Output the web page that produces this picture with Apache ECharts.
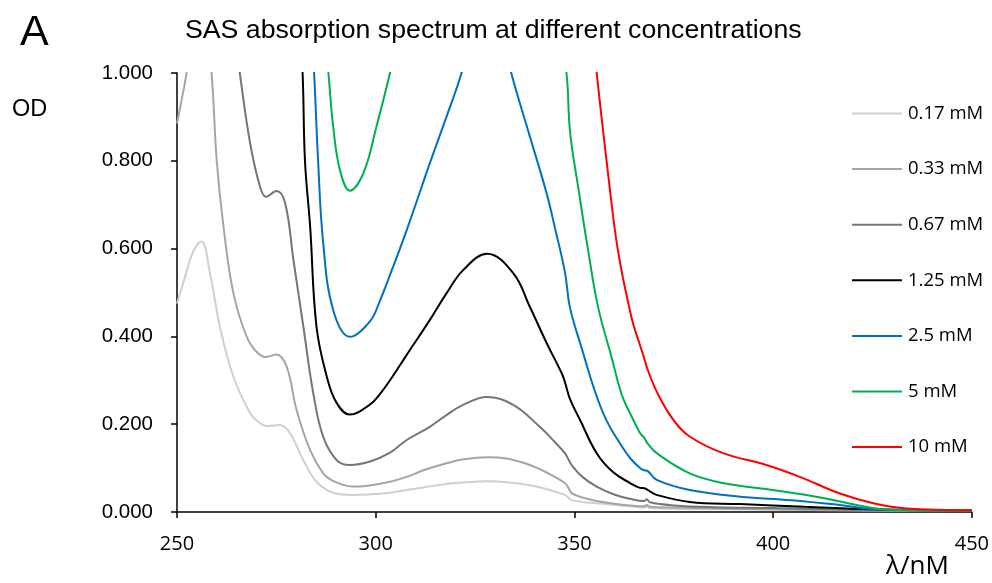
<!DOCTYPE html>
<html>
<head>
<meta charset="utf-8">
<script src="https://cdn.jsdelivr.net/npm/echarts@6/dist/echarts.min.js"></script>
<style>
html,body{margin:0;padding:0;background:#fff;}
#chart{width:992px;height:583px;}
</style>
</head>
<body>
<div id="chart"></div>
<script>
// ---------- data (wavelength in nm, OD) ----------
const seriesNames = ['0.17 mM', '0.33 mM', '0.67 mM', '1.25 mM', '2.5 mM', '5 mM', '10 mM'];
const seriesColors = ['#d0d0d0', '#a6a6a6', '#767676', '#000000', '#0070c0', '#00b050', '#ff0000'];

const wl017 = [250, 252, 253.6, 255, 256.2, 258.3, 260.8, 264.2, 268.4, 270.5, 272.5, 274.5, 275.9, 278.4, 281.8, 285.1, 289.3, 294, 298, 303.6, 307.8, 312, 317.8, 322, 328, 333, 338.8, 343, 347.6, 348.5, 349.3, 352, 355.6, 360, 364, 367.5, 368.2, 369, 375, 385, 400, 420, 450];
const od017 = [0.475, 0.535, 0.583, 0.608, 0.616, 0.544, 0.422, 0.308, 0.225, 0.205, 0.196, 0.197, 0.198, 0.180, 0.118, 0.069, 0.044, 0.039, 0.040, 0.044, 0.050, 0.056, 0.064, 0.067, 0.070, 0.068, 0.061, 0.052, 0.039, 0.033, 0.027, 0.023, 0.020, 0.016, 0.013, 0.010, 0.012, 0.009, 0.007, 0.006, 0.005, 0.004, 0.003];

const wl033 = [250, 251.3, 252.4, 253.5, 257.5, 258.7, 260, 261.7, 264.2, 267.5, 270, 272.4, 275, 277.6, 280.1, 283.5, 286.8, 289, 291.8, 294, 298, 303.6, 307.8, 312, 317.8, 322, 328, 333, 338.8, 343, 347.6, 348.5, 349.3, 352, 355.6, 360, 364, 367.5, 368.2, 369, 375, 385, 400, 420, 450];
const od033 = [0.885, 0.945, 1.000, 1.080, 1.080, 1.000, 0.800, 0.650, 0.498, 0.400, 0.365, 0.353, 0.359, 0.331, 0.232, 0.141, 0.088, 0.072, 0.062, 0.058, 0.060, 0.069, 0.080, 0.095, 0.111, 0.120, 0.125, 0.122, 0.107, 0.090, 0.066, 0.055, 0.043, 0.033, 0.025, 0.019, 0.015, 0.013, 0.016, 0.012, 0.010, 0.008, 0.006, 0.004, 0.003];

const wl067 = [265, 265.8, 268.4, 270.9, 272.4, 275, 277.2, 279.3, 281.8, 284.3, 286.8, 290.2, 293.5, 298.6, 303.6, 307.8, 313.6, 318, 322, 328, 334.6, 341.3, 345, 347.6, 348.5, 349.3, 352, 355.6, 360, 364, 367.5, 368.2, 369, 375, 385, 400, 420, 450];
const od067 = [1.060, 1.000, 0.840, 0.741, 0.718, 0.731, 0.704, 0.574, 0.422, 0.270, 0.171, 0.118, 0.107, 0.115, 0.135, 0.164, 0.194, 0.222, 0.244, 0.262, 0.244, 0.194, 0.160, 0.134, 0.120, 0.107, 0.080, 0.058, 0.040, 0.030, 0.025, 0.029, 0.022, 0.015, 0.011, 0.009, 0.005, 0.003];

const wl125 = [281, 281.6, 282.2, 283.5, 285.1, 287.7, 290.2, 293.5, 298.6, 301, 303.6, 307.8, 313.6, 317.8, 322, 328, 334.6, 338.8, 343, 346.8, 347.6, 348.9, 351.4, 355.6, 359.7, 364, 366.5, 367.6, 368.5, 370.7, 379, 391.7, 408, 425, 450];
const od125 = [1.060, 1.000, 0.800, 0.650, 0.422, 0.308, 0.248, 0.222, 0.245, 0.268, 0.300, 0.358, 0.437, 0.498, 0.551, 0.588, 0.544, 0.467, 0.385, 0.316, 0.296, 0.257, 0.210, 0.134, 0.091, 0.066, 0.055, 0.054, 0.050, 0.039, 0.023, 0.018, 0.012, 0.006, 0.003];

const wl25 = [284, 284.5, 285.5, 286.8, 289.3, 293.5, 298.6, 301, 303.6, 307.8, 313.6, 317.8, 321.6, 326, 330, 334.1, 338.8, 343, 345.1, 347.6, 348.9, 351.8, 355.2, 358, 361.4, 364, 366.5, 367.6, 368.3, 370.7, 379, 391.7, 404.5, 416.8, 425, 450];
const od25 = [1.060, 1.000, 0.800, 0.612, 0.460, 0.399, 0.435, 0.480, 0.540, 0.642, 0.794, 0.900, 1.000, 1.150, 1.150, 1.000, 0.855, 0.726, 0.647, 0.547, 0.465, 0.374, 0.274, 0.210, 0.157, 0.123, 0.100, 0.095, 0.094, 0.073, 0.050, 0.035, 0.027, 0.016, 0.007, 0.003];

const wl5 = [287.5, 288.1, 289.3, 291, 293.5, 296.9, 300.2, 303.6, 305, 325, 346.5, 348, 348.9, 351, 353.5, 356, 359.4, 361.9, 364, 366.5, 367.5, 368.5, 370.7, 379, 387.4, 400, 412.6, 421, 429, 450];
const od5 = [1.060, 1.000, 0.878, 0.779, 0.732, 0.772, 0.878, 1.000, 1.060, 1.500, 1.060, 1.000, 0.866, 0.737, 0.593, 0.465, 0.351, 0.267, 0.225, 0.180, 0.170, 0.155, 0.134, 0.088, 0.066, 0.050, 0.032, 0.016, 0.005, 0.003];

const wl10 = [355, 355.6, 358.5, 361, 364.4, 366.5, 367.3, 368.6, 371.1, 374.9, 379, 387.4, 398.3, 406.7, 416.8, 425.2, 433.6, 450];
const od10 = [1.060, 1.000, 0.768, 0.593, 0.442, 0.380, 0.358, 0.320, 0.267, 0.210, 0.172, 0.134, 0.107, 0.080, 0.042, 0.020, 0.008, 0.004];

const xTicks = [250, 300, 350, 400, 450];
const yTicks = [0, 0.2, 0.4, 0.6, 0.8, 1.0];

const allWl = [wl017, wl033, wl067, wl125, wl25, wl5, wl10];
const allOd = [od017, od033, od067, od125, od25, od5, od10];

// ---------- chart ----------
const chart = echarts.init(document.getElementById('chart'), null, {renderer: 'canvas'});

const series = seriesNames.map((name, i) => ({
  name: name,
  type: 'line',
  data: allWl[i].map((x, k) => [x, allOd[i][k]]),
  showSymbol: false,
  symbol: 'none',
  smooth: 0.4,
  clip: true,
  color: seriesColors[i],
  lineStyle: {width: 2, color: seriesColors[i]},
  emphasis: {disabled: true},
  z: 2
}));

const option = {
  animation: false,
  backgroundColor: '#ffffff',
  grid: {left: 177, right: 20, top: 73, bottom: 71, containLabel: false},
  xAxis: {
    type: 'value',
    min: xTicks[0],
    max: xTicks[xTicks.length - 1],
    interval: 50,
    axisLine: {show: true, onZero: false, lineStyle: {color: '#000', width: 1.5}},
    axisTick: {show: true, inside: false, length: 6, lineStyle: {color: '#000', width: 1.5}},
    axisLabel: {margin: 22, color: '#000', fontSize: 20, fontFamily: 'Open Sans'},
    splitLine: {show: false}
  },
  yAxis: {
    type: 'value',
    min: yTicks[0],
    max: yTicks[yTicks.length - 1],
    interval: 0.2,
    axisLine: {show: true, lineStyle: {color: '#000', width: 1.5}},
    axisTick: {show: true, inside: false, length: 6, lineStyle: {color: '#000', width: 1.5}},
    axisLabel: {margin: 24, color: '#000', fontSize: 20.5, fontFamily: 'Liberation Sans',
      formatter: v => v.toFixed(3)},
    splitLine: {show: false}
  },
  legend: {
    orient: 'vertical',
    left: 852,
    top: 104,
    padding: 0,
    itemWidth: 50,
    itemHeight: 2,
    itemGap: 36.6,
    icon: 'rect',
    data: seriesNames,
    textStyle: {color: '#000', fontSize: 18.5, fontFamily: 'Open Sans', padding: [0, 0, 0, 1]}
  },
  graphic: [
    {type: 'text', left: 20, top: 12, style: {text: 'A', fontSize: 43, fontFamily: 'Liberation Sans', fill: '#000'}},
    {type: 'text', left: 185, top: 17, style: {text: 'SAS absorption spectrum at different concentrations', fontSize: 26.7, fontFamily: 'Liberation Sans', fill: '#000'}},
    {type: 'text', left: 12, top: 98, style: {text: 'OD', fontSize: 23.5, fontFamily: 'Liberation Sans', fill: '#000'}},
    {type: 'text', left: 886, top: 554, style: {text: 'λ/nM', fontSize: 26, fontFamily: 'Open Sans', fill: '#000'}}
  ],
  series: series
};
chart.setOption(option);
</script>
</body>
</html>
